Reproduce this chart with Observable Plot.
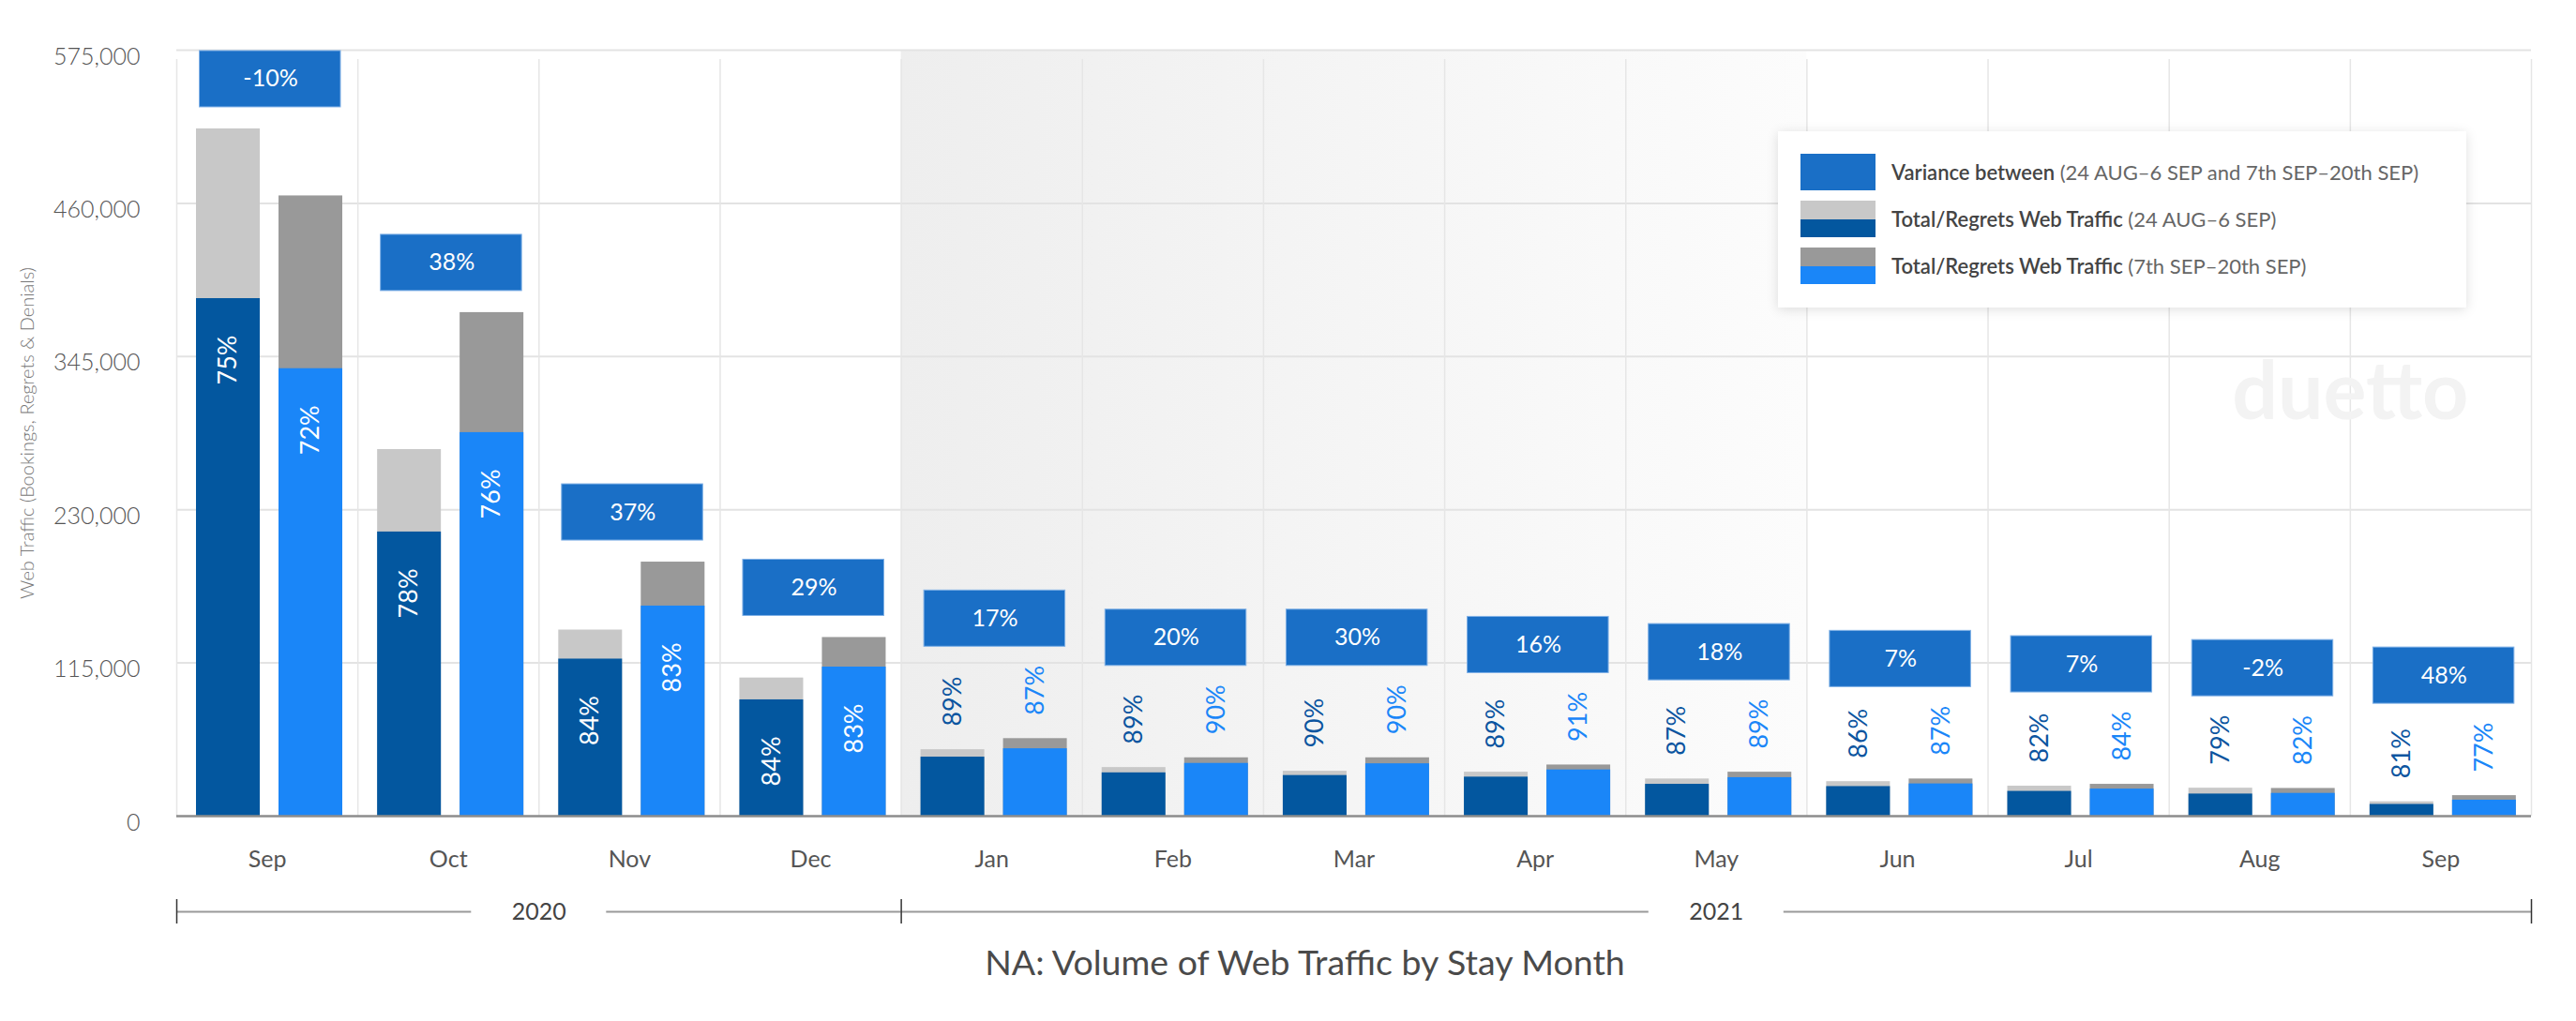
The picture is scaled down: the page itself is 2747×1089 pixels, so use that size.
<!DOCTYPE html>
<html>
<head>
<meta charset="utf-8">
<script src="https://cdn.jsdelivr.net/npm/d3@7"></script>
<script src="https://cdn.jsdelivr.net/npm/@observablehq/plot@0.6"></script>
<style>
  html, body { margin: 0; padding: 0; background: #fff; }
  body { width: 2747px; height: 1089px; position: relative; overflow: hidden; font-family: Lato, "Open Sans", sans-serif; }
  #chart { position: absolute; left: 0; top: 0; }
  #title { position: absolute; left: 0; top: 1004px; width: 2747px; box-sizing: border-box; padding-left: 36px;
           text-align: center; font-size: 37.5px; line-height: 44px; color: #4a4a4a; }
  #legend { position: absolute; left: 1896px; top: 140px; width: 734px; height: 188px; background: #fff;
            box-shadow: 0 2px 12px rgba(0,0,0,0.13); }
  .row { position: absolute; left: 24px; display: flex; align-items: center; height: 39px; }
  .sw { width: 80px; height: 39px; display: flex; flex-direction: column; margin-right: 17px; }
  .sw div { flex: 1; }
  .lt { font-size: 22px; color: #666; white-space: nowrap; }
  .lt b { font-weight: 600; color: #444; }
</style>
</head>
<body>
<div id="chart"></div>
<div id="legend"></div>
<div id="title"></div>
<script>
// ---------- data ----------
const months = ["Sep","Oct","Nov","Dec","Jan","Feb","Mar","Apr","May","Jun","Jul","Aug","Sep"];
const monthYears = [2020,2020,2020,2020,2021,2021,2021,2021,2021,2021,2021,2021,2021];
const shadedMonths = [false,false,false,false,true,true,true,true,true,false,false,false,false];
// Total web traffic, period A (24 AUG–6 SEP)
const totalA  = [515900, 275200, 139700, 103700, 49900, 36500, 33700, 33000, 27900, 25900, 22500, 21000, 10800];
const bookedA = [388500, 213300, 117900,  87300, 44300, 32500, 30500, 29300, 23900, 22200, 18600, 16600,  8800];
// Total web traffic, period B (7th SEP–20th SEP)
const totalB  = [465600, 378000, 190700, 134100, 58200, 43800, 43800, 38400, 33000, 27900, 23900, 20800, 15400];
const bookedB = [335900, 287900, 157700, 111900, 50600, 39600, 39300, 34700, 28900, 24200, 20300, 17100, 12000];
const pctA = ["75%","78%","84%","84%","89%","89%","90%","89%","87%","86%","82%","79%","81%"];
const pctB = ["72%","76%","83%","83%","87%","90%","90%","91%","89%","87%","84%","82%","77%"];
const variance = ["-10%","38%","37%","29%","17%","20%","30%","16%","18%","7%","7%","-2%","48%"];
const yTicks = [0, 115000, 230000, 345000, 460000, 575000];

const titleText = "NA: Volume of Web Traffic by Stay Month";
const yLabel = "Web Traffic (Bookings, Regrets & Denials)";
const legendItems = [
  {bold: "Variance between", rest: " (24 AUG–6 SEP and 7th SEP–20th SEP)", colors: ["#1a6fc6"]},
  {bold: "Total/Regrets Web Traffic", rest: " (24 AUG–6 SEP)", colors: ["#c8c8c8", "#03579f"]},
  {bold: "Total/Regrets Web Traffic", rest: " (7th SEP–20th SEP)", colors: ["#999999", "#1a86f8"]}
];

// ---------- layout ----------
const W = 2747, H = 1000;
const mL = 188, mR = 48, mT = 53, mB = 130;
const band = (W - mL - mR) / months.length;
const INSIDE_MIN = 80000;

const rows = months.map((m, i) => ({
  i, i1: i + 1, m, year: monthYears[i],
  maxTotal: Math.max(totalA[i], totalB[i]),
  inside: bookedA[i] >= INSIDE_MIN && bookedB[i] >= INSIDE_MIN,
  variance: variance[i]
}));

const series = [
  {total: totalA, booked: bookedA, pct: pctA, gray: "#c8c8c8", blue: "#03579f", label: "#0b55a0", l: 21, r: band - 89, c: 55},
  {total: totalB, booked: bookedB, pct: pctB, gray: "#999999", blue: "#1a86f8", label: "#1a86f8", l: 109, r: band - 177, c: 143}
];

// year spans
const years = [];
monthYears.forEach((y, i) => {
  const last = years[years.length - 1];
  if (last && last.year === y) last.end = i + 1;
  else years.push({year: y, start: i, end: i + 1});
});
years.forEach(d => d.mid = (d.start + d.end) / 2);
const yearBounds = Array.from(new Set(years.flatMap(d => [d.start, d.end])));

const shadeIdx = shadedMonths.map((s, i) => s ? i : null).filter(v => v !== null);
const shade = [{x1: d3.min(shadeIdx), x2: d3.max(shadeIdx) + 1}];

const marks = [];
// shaded background
marks.push(Plot.rect(shade, {x1: "x1", x2: "x2", y1: 0, y2: 575000, fill: "url(#shadeGrad)"}));
// grid
marks.push(Plot.ruleY(yTicks.filter(d => d > 0), {stroke: "#e3e3e3", strokeWidth: 2}));
marks.push(Plot.ruleX(d3.range(months.length + 1), {y1: 0, y2: 575000, insetBottom: -10, stroke: "#e6e6e6", strokeWidth: 1.5}));
// watermark
marks.push(Plot.text(["duetto"], {frameAnchor: "top-right", dx: -67, dy: 332, textAnchor: "end", fontSize: 86, fontWeight: 700, fill: "#f3f3f3"}));

for (const s of series) {
  const data = rows.map(r => ({i: r.i, i1: r.i1, total: s.total[r.i], booked: s.booked[r.i], pct: s.pct[r.i]}));
  marks.push(Plot.rect(data, {x1: "i", x2: "i1", y1: 0, y2: "total", fill: s.gray, insetLeft: s.l, insetRight: s.r}));
  marks.push(Plot.rect(data, {x1: "i", x2: "i1", y1: 0, y2: "booked", fill: s.blue, insetLeft: s.l, insetRight: s.r}));
  marks.push(Plot.text(data.filter(d => d.booked >= INSIDE_MIN), {x: "i", y: "booked", text: "pct", dx: s.c, dy: 39,
    rotate: -90, textAnchor: "end", fill: "white", fontSize: 27}));
  marks.push(Plot.text(data.filter(d => d.booked < INSIDE_MIN), {x: "i", y: "total", text: "pct", dx: s.c, dy: -25,
    rotate: -90, textAnchor: "start", fill: s.label, fontSize: 27}));
}
// baseline
marks.push(Plot.ruleY([0], {stroke: "#8c8c8c", strokeWidth: 2.5}));

// variance boxes
const inRows = rows.filter(r => r.inside), outRows = rows.filter(r => !r.inside);
const boxOpts = {x1: "i", x2: "i1", y1: "maxTotal", y2: "maxTotal", fill: "#1a6fc6", stroke: "#7fb0e6", strokeWidth: 1, insetLeft: 24.5, insetRight: band - 175};
marks.push(Plot.rect(inRows, {...boxOpts, insetTop: -83, insetBottom: 23}));
marks.push(Plot.rect(outRows, {...boxOpts, insetTop: -158, insetBottom: 98}));
marks.push(Plot.text(inRows, {x: "i", y: "maxTotal", text: "variance", dx: 100, dy: -53, fill: "white", fontSize: 25}));
marks.push(Plot.text(outRows, {x: "i", y: "maxTotal", text: "variance", dx: 100, dy: -128, fill: "white", fontSize: 25}));

// month labels
marks.push(Plot.text(rows, {x: d => d.i + 0.5, y: 0, text: "m", dy: 46, fontSize: 25, fill: "#555"}));
// year axis
marks.push(Plot.ruleY(years, {x1: "start", x2: "mid", y: 0, dy: 102, insetRight: 72, stroke: "#9a9a9a", strokeWidth: 2}));
marks.push(Plot.ruleY(years, {x1: "mid", x2: "end", y: 0, dy: 102, insetLeft: 72, stroke: "#9a9a9a", strokeWidth: 2}));
marks.push(Plot.ruleX(yearBounds, {y1: 0, y2: 0, insetTop: 89, insetBottom: -115, stroke: "#333", strokeWidth: 1.5}));
marks.push(Plot.text(years, {x: "mid", y: 0, text: d => String(d.year), dy: 102, fontSize: 25, fill: "#444"}));
// y axis
marks.push(Plot.axisY(yTicks, {tickSize: 0, tickPadding: 39, tickFormat: d3.format(","), fontSize: 25, fontWeight: 300, fill: "#555", dy: 7, label: null}));
marks.push(Plot.text([yLabel], {frameAnchor: "left", textAnchor: "middle", dx: -159, rotate: -90, fontSize: 20, fontWeight: 300, fill: "#777"}));

const svg = Plot.plot({
  width: W, height: H,
  marginLeft: mL, marginRight: mR, marginTop: mT, marginBottom: mB,
  x: {type: "linear", domain: [0, months.length], axis: null},
  y: {domain: [0, 575000], axis: null},
  style: {fontFamily: "Lato, 'Open Sans', sans-serif", background: "white", overflow: "visible"},
  marks
});

// gradient for shaded months
const defs = d3.select(svg).insert("defs", ":first-child");
const g = defs.append("linearGradient").attr("id", "shadeGrad").attr("x1", "0%").attr("x2", "100%").attr("y1", "0%").attr("y2", "0%");
g.append("stop").attr("offset", "0%").attr("stop-color", "#eeeeee");
g.append("stop").attr("offset", "100%").attr("stop-color", "#fcfcfc");

document.getElementById("chart").appendChild(svg);
document.getElementById("title").textContent = titleText;

// legend
const leg = document.getElementById("legend");
const tops = [24, 74, 124];
legendItems.forEach((it, k) => {
  const row = document.createElement("div");
  row.className = "row"; row.style.top = tops[k] + "px";
  const sw = document.createElement("div"); sw.className = "sw";
  it.colors.forEach(c => { const p = document.createElement("div"); p.style.background = c; sw.appendChild(p); });
  const t = document.createElement("div"); t.className = "lt";
  const b = document.createElement("b"); b.textContent = it.bold;
  t.appendChild(b); t.appendChild(document.createTextNode(it.rest));
  row.appendChild(sw); row.appendChild(t);
  leg.appendChild(row);
});
</script>
</body>
</html>
